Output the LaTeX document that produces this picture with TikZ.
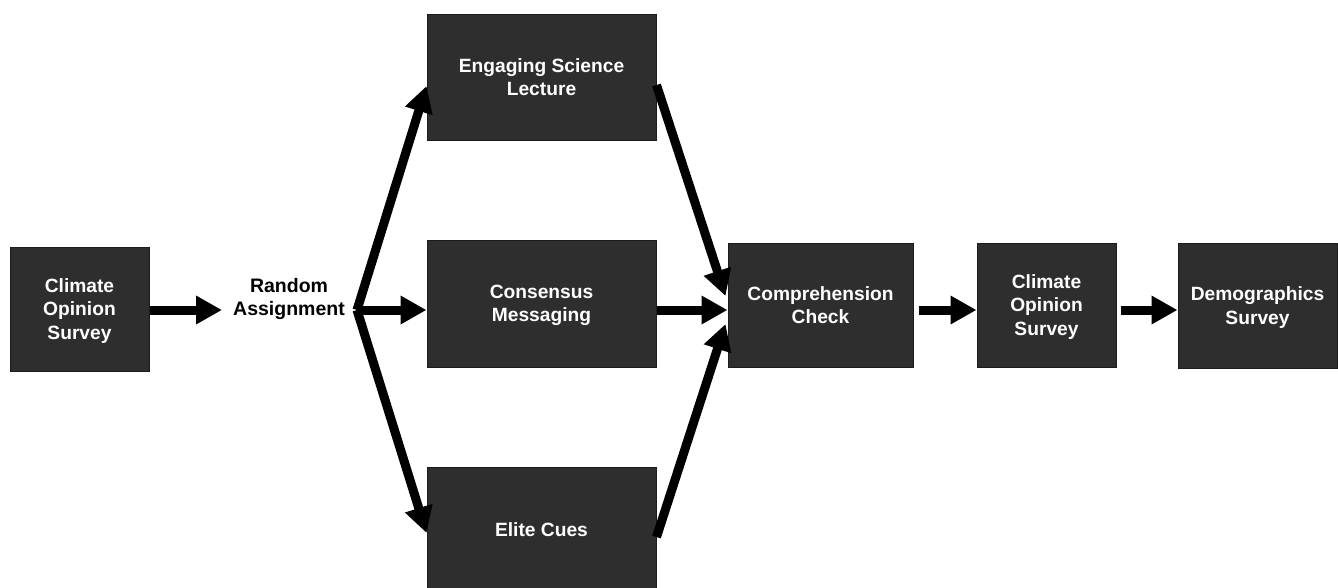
\documentclass[tikz,border=0pt]{standalone}
\usepackage{fontspec}
\setmainfont{Liberation Sans}
\usetikzlibrary{arrows.meta}
\definecolor{boxfill}{HTML}{2E2E2E}
\definecolor{boxline}{HTML}{1C1C1C}
\begin{document}
\begin{tikzpicture}[x=1pt,y=-1pt,
  box/.style={draw=boxline, line width=1pt, fill=boxfill, text=white,
    font=\fontsize{19.2}{23.2}\selectfont\bfseries, align=center, inner sep=0pt, text depth=0pt},
  lbl/.style={text=black, font=\fontsize{19.5}{23}\selectfont\bfseries, align=center, inner sep=0pt},
  arr/.style={line width=9pt, -{Triangle[length=26pt,width=27pt]}}]
\useasboundingbox[fill=white] (0,0) rectangle (1338,587);
\node[box, minimum width=139pt, minimum height=124pt] (s1) at (79.5,309) {Climate\\Opinion\\Survey};
\node[lbl] (ra) at (289,299) {Random\\Assignment};
\coordinate (rs) at (357,310);
\coordinate (rin) at (222,310);
\node[box, minimum width=229pt, minimum height=126pt] (esl) at (541.5,77) {Engaging Science\\Lecture};
\node[box, minimum width=229pt, minimum height=127pt] (cm) at (541.5,303.5) {Consensus\\Messaging};
\node[box, minimum width=229pt, minimum height=126pt] (ec) at (541.5,530) {Elite Cues};
\node[box, minimum width=185pt, minimum height=124pt] (cc) at (820.5,305) {Comprehension\\Check};
\node[box, minimum width=139pt, minimum height=124pt] (s2) at (1046.5,305) {Climate\\Opinion\\Survey};
\node[box, minimum width=159pt, minimum height=125pt] (ds) at (1257.5,305.5) {Demographics\\Survey};

\draw[arr] (s1.east |- rs) -- (rin);
\draw[arr] (rs) -- ([yshift=-9pt]esl.west);
\draw[arr] (rs) -- (cm.west |- rs);
\draw[arr] (rs) -- ([yshift=-3pt]ec.west);
\draw[arr] ([yshift=-8pt]esl.east) -- ([xshift=-2pt,yshift=9pt]cc.west);
\draw[arr] (cm.east |- rs) -- (cc.west |- rs);
\draw[arr] ([yshift=-7pt]ec.east) -- ([xshift=-2pt,yshift=-19pt]cc.west);
\draw[arr, shorten <=5pt] (cc.east |- rs) -- (s2.west |- rs);
\draw[arr, shorten <=4pt] (s2.east |- rs) -- (ds.west |- rs);
\end{tikzpicture}
\end{document}
